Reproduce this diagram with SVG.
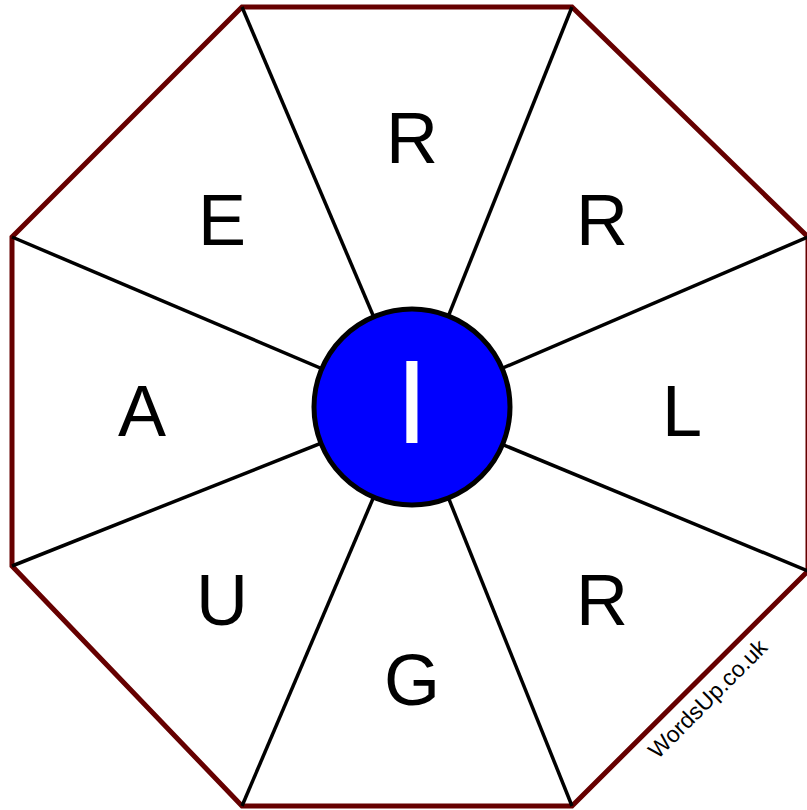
<svg xmlns="http://www.w3.org/2000/svg" width="807" height="810" viewBox="0 0 807 810">
<style>
.spoke{stroke:#000;stroke-width:3.5;fill:none}
.letter{font-family:"Liberation Sans",Arial,sans-serif;font-size:72px;fill:#000;text-anchor:middle}
</style>
<rect width="807" height="810" fill="#fff"/>
<g id="octagon">
<polygon points="242,7 572,7 808,237 808,571 572,806 242,806 12,566 12,237" fill="#fff" stroke="#660000" stroke-width="5"/>
</g>
<g id="connectors">
<line class="spoke" x1="412" y1="407" x2="242" y2="7"/>
<line class="spoke" x1="412" y1="407" x2="572" y2="7"/>
<line class="spoke" x1="412" y1="407" x2="808" y2="237"/>
<line class="spoke" x1="412" y1="407" x2="808" y2="571"/>
<line class="spoke" x1="412" y1="407" x2="572" y2="806"/>
<line class="spoke" x1="412" y1="407" x2="242" y2="806"/>
<line class="spoke" x1="412" y1="407" x2="12" y2="566"/>
<line class="spoke" x1="412" y1="407" x2="12" y2="237"/>
</g>
<g id="n-top"><text class="letter" x="412" y="163">R</text></g>
<g id="n-topright"><text class="letter" x="602" y="245">R</text></g>
<g id="n-right"><text class="letter" x="682" y="436">L</text></g>
<g id="n-bottomright"><text class="letter" x="602" y="625">R</text></g>
<g id="n-bottom"><text class="letter" x="412" y="705">G</text></g>
<g id="n-bottomleft"><text class="letter" x="222" y="625">U</text></g>
<g id="n-left"><text class="letter" x="142" y="436">A</text></g>
<g id="n-topleft"><text class="letter" x="222" y="245">E</text></g>
<g id="n-center">
<circle cx="412" cy="407" r="98" fill="#0000ff" stroke="#000" stroke-width="5"/>
<text x="412" y="443" font-family="'Liberation Sans',Arial,sans-serif" font-size="118" fill="#fff" text-anchor="middle">I</text>
</g>
<g id="watermark">
<text x="0" y="0" transform="translate(709,700) rotate(-45)" font-family="'Liberation Sans',Arial,sans-serif" font-size="23" fill="#000" text-anchor="middle" dominant-baseline="middle">WordsUp.co.uk</text>
</g>
</svg>
